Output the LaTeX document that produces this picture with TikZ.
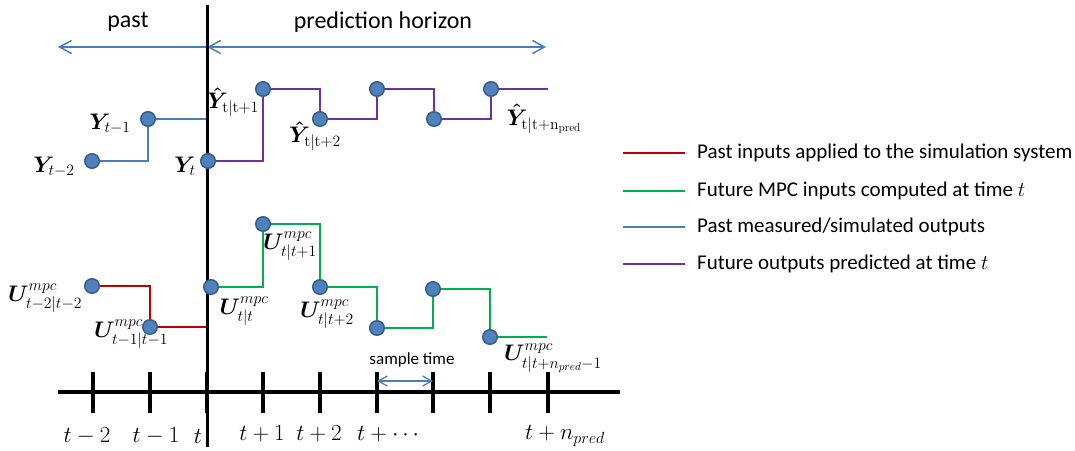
\RequirePackage{fix-cm}
\documentclass[tikz,border=0pt]{standalone}
\usepackage{amsmath}
\usepackage{bm}
\usepackage[no-math]{fontspec}
\newfontfamily\uisans{Carlito}
\usetikzlibrary{arrows.meta,backgrounds}
\definecolor{dotfill}{HTML}{4F81BD}
\definecolor{dotedge}{HTML}{385D8A}
\definecolor{pastblue}{HTML}{4A7EBB}
\definecolor{inred}{HTML}{C00000}
\definecolor{mpcgreen}{HTML}{00B050}
\definecolor{predpurple}{HTML}{7030A0}
\tikzset{
  dot/.style={circle, fill=dotfill, draw=dotedge, line width=1.5pt, minimum size=14.5pt, inner sep=0pt},
  sig/.style={line width=2.4pt, line join=miter},
  axisline/.style={line width=4pt, black},
  nowline/.style={line width=3pt, black},
  spanarrow/.style={pastblue, line width=1.5pt},
  samplearrow/.style={pastblue, line width=1.3pt},
  bigbarb/.tip={Straight Barb[length=12pt,width=13pt,line width=1.5pt]},
  smallbarb/.tip={Straight Barb[length=9pt,width=10pt,line width=1.3pt]},
  mlbl/.style={inner sep=0pt, font=\fontsize{22.5}{27}\selectfont},
  ticklbl/.style={inner sep=0pt, font=\fontsize{23}{27}\selectfont},
  headlbl/.style={inner sep=0pt, font=\uisans\fontsize{24}{28}\selectfont},
  smalllbl/.style={inner sep=0pt, font=\uisans\fontsize{17}{20}\selectfont},
  legtxt/.style={inner sep=0pt, anchor=west, font=\uisans\fontsize{21}{25}\selectfont},
  legline/.style={line width=2pt},
}
\begin{document}
\begin{tikzpicture}[x=1pt,y=-1pt]
\useasboundingbox (0,0) rectangle (1075,450);

% ---- key points of the time axis and the "now" line
\coordinate (vtop) at (207,5);
\coordinate (vbot) at (207,447);
\coordinate (axL) at (58,392);
\coordinate (axR) at (620,392);

% ---- span arrows at the top
\coordinate (pastL) at (58,47);
\coordinate (split) at (207,47);
\coordinate (horR) at (546,47);
\draw[spanarrow, -bigbarb] (split) -- (pastL);
\draw[spanarrow, bigbarb-bigbarb] (split) -- (horR);
\node[headlbl] (pastlbl) at (128,22) {past};
\node[headlbl] (horlbl) at (383,22) {prediction horizon};

% ---- time axis with ticks
\draw[axisline] (axL) -- (axR);
\foreach \x/\n in {93/a,150/b,207/c,263/d,320/e,377/f,433/g,490/h,548/i}{
  \coordinate (tk\n top) at (\x,372);
  \coordinate (tk\n bot) at (\x,413);
  \draw[axisline] (tk\n top) -- (tk\n bot);
}
\node[ticklbl] (ltm2) at (87,436) {$t-2$};
\node[ticklbl] (ltm1) at (156,436) {$t-1$};
\node[ticklbl] (lt0) at (198,436) {$t$};
\node[ticklbl] (ltp1) at (262,434) {$t+1$};
\node[ticklbl] (ltp2) at (319,434) {$t+2$};
\node[ticklbl] (ltpd) at (390,434) {$t+\cdots$};
\node[ticklbl] (ltpn) at (565,436) {$t+n_{pred}$};

% ---- sample time
\coordinate (stL) at (377,381);
\coordinate (stR) at (433,381);
\draw[samplearrow, smallbarb-smallbarb] (stL) -- (stR);
\node[smalllbl] (stlbl) at (412,360) {sample time};

% ---- the "now" line
\draw[nowline] (vtop) -- (vbot);

% ---- sample points
\node[dot] (y2) at (92,161) {};
\node[dot] (y1) at (148,119) {};
\node[dot] (yt) at (208,161) {};
\node[dot] (p1) at (263,89) {};
\node[dot] (p2) at (320,119) {};
\node[dot] (p3) at (377,89) {};
\node[dot] (p4) at (434,119) {};
\node[dot] (p5) at (491,89) {};
\coordinate (pend) at (548,89);
\coordinate (yjoin) at (207,119);

\node[dot] (r2) at (92,286) {};
\node[dot] (r1) at (150,327) {};
\coordinate (rjoin) at (207,327);
\node[dot] (u0) at (211,287) {};
\node[dot] (u1) at (263,224) {};
\node[dot] (u2) at (320,287) {};
\node[dot] (u3) at (377,328) {};
\node[dot] (u4) at (433,289) {};
\node[dot] (u5) at (490,337) {};
\coordinate (uend) at (547,337);

% ---- staircase signals, behind the points
\begin{scope}[on background layer]
  \draw[sig, pastblue] (y2.center) -| (y1.center) -- (yjoin);
  \draw[sig, predpurple] (yt.center) -| (p1.center) -| (p2.center) -| (p3.center) -| (p4.center) -| (p5.center) -- (pend);
  \draw[sig, inred] (r2.center) -| (r1.center) -- (rjoin);
  \draw[sig, mpcgreen] (u0.center) -| (u1.center) -| (u2.center) -| (u3.center) -| (u4.center) -| (u5.center) -- (uend);
\end{scope}

% ---- output labels
\node[mlbl] (ly2) at (54,167) {$\bm{Y}_{t-2}$};
\node[mlbl] (ly1) at (110,124) {$\bm{Y}_{t-1}$};
\node[mlbl] (lyt) at (185,166) {$\bm{Y}_{t}$};
\node[mlbl] (lp1) at (233,102) {$\bm{\hat{Y}}_{\mathrm{t|t+1}}$};
\node[mlbl] (lp2) at (315,136) {$\bm{\hat{Y}}_{\mathrm{t|t+2}}$};
\node[mlbl] (lp5) at (544,119) {$\bm{\hat{Y}}_{\mathrm{t|t+n_{pred}}}$};

% ---- input labels
\node[mlbl] (lr2) at (45,298) {$\bm{U}^{mpc}_{t-2|t-2}$};
\node[mlbl] (lr1) at (131,334) {$\bm{U}^{mpc}_{t-1|t-1}$};
\node[mlbl] (lu0) at (244,311) {$\bm{U}^{mpc}_{t|t}$};
\node[mlbl] (lu1) at (290,246) {$\bm{U}^{mpc}_{t|t+1}$};
\node[mlbl] (lu2) at (327,314) {$\bm{U}^{mpc}_{t|t+2}$};
\node[mlbl] (lu5) at (553,358) {$\bm{U}^{mpc}_{t|t+n_{pred}-1}$};

% ---- legend
\foreach \y/\c/\n in {153/inred/1,191/mpcgreen/2,227/pastblue/3,264/predpurple/4}{
  \coordinate (lg\n a) at (623,\y);
  \coordinate (lg\n b) at (685,\y);
  \draw[legline, \c] (lg\n a) -- (lg\n b);
}
\node[legtxt] (lt1) at (697,153) {Past inputs applied to the simulation system};
\node[legtxt] (lt2) at (697,191) {Future MPC inputs computed at time $t$};
\node[legtxt] (lt3) at (697,227) {Past measured/simulated outputs};
\node[legtxt] (lt4) at (697,264) {Future outputs predicted at time $t$};
\end{tikzpicture}
\end{document}
